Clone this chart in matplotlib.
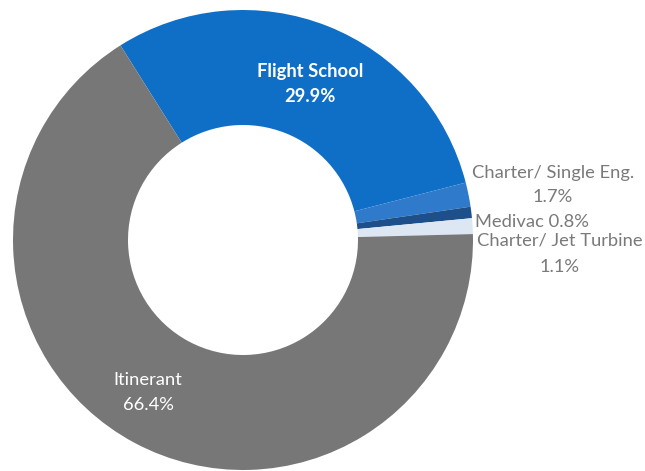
import matplotlib.pyplot as plt

# operations share by category
labels = ['Flight School', 'Charter/ Single Eng.', 'Medivac', 'Charter/ Jet Turbine', 'Itinerant']
shares = [29.9, 1.7, 0.8, 1.1, 66.4]
colors = ['#0f6fc6', '#2f7acb', '#1d4f8a', '#dde7f3', '#777777']

W, H = 645, 471
plt.rcParams['font.family'] = ['Lato', 'DejaVu Sans']

fig = plt.figure(figsize=(W / 100, H / 100), dpi=100)
ax = fig.add_axes([0, 0, 1, 1])

cx, cy, r = 243, H - 240, 230
ax.pie(shares, colors=colors, startangle=122.2, counterclock=False,
       center=(cx, cy), radius=r, frame=True,
       wedgeprops=dict(width=r * 0.5, linewidth=0))
ax.set_xlim(0, W)
ax.set_ylim(0, H)
ax.set_aspect('equal')
ax.axis('off')

def pct(v):
    return f'{v:.1f}%'

inner = dict(color='white', fontsize=13.2, ha='center', va='center')
ax.text(310, H - 72, labels[0], fontweight='bold', **inner)
ax.text(310, H - 97, pct(shares[0]), fontweight='bold', **inner)
ax.text(148, H - 380, labels[4], **inner)
ax.text(148, H - 405, pct(shares[4]), **inner)

outer = dict(color='#7a7a7a', fontsize=13.2, ha='center', va='center')
ax.text(553, H - 173, labels[1], **outer)
ax.text(553, H - 197, pct(shares[1]), **outer)
ax.text(475, H - 222, f'{labels[2]} {pct(shares[2])}', **dict(outer, ha='left'))
ax.text(560, H - 241, labels[3], **outer)
ax.text(560, H - 267, pct(shares[3]), **outer)

fig.savefig('out.png', dpi=100)
